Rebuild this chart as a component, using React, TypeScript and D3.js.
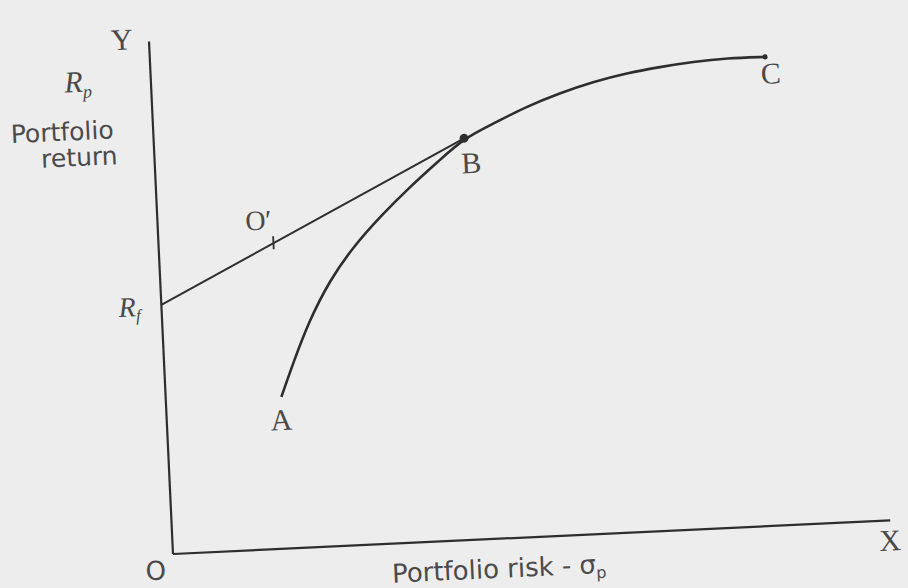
import React from "react";
import * as d3 from "d3";

// Opportunity set (risk σp, return Rp) from A through B to C
const curveRisk = [1.61, 1.8, 2.04, 2.36, 2.71, 3.1, 3.54, 3.97, 4.32, 4.74, 5.21, 5.68, 6.15, 6.63, 7.09, 7.56, 8.03, 8.56];
const curveReturn = [2.96, 3.62, 4.4, 5.19, 5.82, 6.38, 6.94, 7.43, 7.83, 8.09, 8.39, 8.62, 8.81, 8.95, 9.04, 9.11, 9.15, 9.14];

// Points
const pointNames = ["A", "B", "C"];
const pointRisk = [1.61, 4.32, 8.56];
const pointReturn = [2.96, 7.83, 9.14];

const riskFree = 4.86; // Rf
const oPrimeRisk = 1.6; // O'

const W = 908;
const H = 588;
const ORIGIN_X = 173;
const ORIGIN_Y = 554;
const ROT = -2.68;
const X_LEN = 718;
const Y_LEN = 513;

export default function App() {
  const x = d3.scaleLinear().domain([0, 10]).range([0, X_LEN]);
  const y = d3.scaleLinear().domain([0, 10]).range([0, -Y_LEN]);

  const pts: [number, number][] = curveRisk.map((r, i) => [r, curveReturn[i]]);
  const curve = d3
    .line<[number, number]>()
    .x((d) => x(d[0]))
    .y((d) => y(d[1]))
    .curve(d3.curveBasis)(pts);

  const bRisk = pointRisk[1];
  const bRet = pointReturn[1];
  const lineAt = (r: number) => riskFree + ((bRet - riskFree) * r) / bRisk;

  const ink = "#2e2e2e";
  const textInk = "#4a4a4a";
  const serif = "'Liberation Serif', serif";
  const sans = "'DejaVu Sans', sans-serif";

  // label offsets (px, in the rotated frame)
  const labelDx = [-1, 6, 5];
  const labelDy = [33, 35, 27];

  return (
    <svg
      width={W}
      height={H}
      style={{ position: "absolute", left: 0, top: 0, display: "block" }}
    >
      <rect x={0} y={0} width={W} height={H} fill="#ededed" />
      <g transform={`translate(${ORIGIN_X},${ORIGIN_Y}) rotate(${ROT})`}>
        {/* axes */}
        <line x1={x(0)} y1={y(0)} x2={x(0)} y2={y(10)} stroke={ink} strokeWidth={2.2} />
        <line x1={x(0)} y1={y(0)} x2={x(10)} y2={y(0)} stroke={ink} strokeWidth={2.2} />

        {/* capital market line Rf -> B */}
        <line
          x1={x(0)}
          y1={y(riskFree)}
          x2={x(bRisk)}
          y2={y(bRet)}
          stroke={ink}
          strokeWidth={2}
        />
        {/* O' tick */}
        <line
          x1={x(oPrimeRisk)}
          y1={y(lineAt(oPrimeRisk)) - 7}
          x2={x(oPrimeRisk)}
          y2={y(lineAt(oPrimeRisk)) + 6}
          stroke={ink}
          strokeWidth={1.8}
        />

        {/* efficient frontier */}
        <path d={curve || ""} fill="none" stroke={ink} strokeWidth={2.6} />
        <circle cx={x(bRisk)} cy={y(bRet)} r={4.5} fill={ink} />
        <circle cx={x(pointRisk[2])} cy={y(pointReturn[2])} r={2.6} fill={ink} />

        {/* point labels */}
        {pointNames.map((n, i) => (
          <text
            key={n}
            x={x(pointRisk[i]) + labelDx[i]}
            y={y(pointReturn[i]) + labelDy[i]}
            textAnchor="middle"
            fontFamily={serif}
            fontSize={30}
            fill={textInk}
          >
            {n}
          </text>
        ))}
        <text
          x={x(oPrimeRisk) - 14}
          y={y(lineAt(oPrimeRisk)) - 14}
          textAnchor="middle"
          fontFamily={serif}
          fontSize={28}
          fill={textInk}
        >
          O′
        </text>

        {/* axis letters */}
        <text x={-27} y={-506} textAnchor="middle" fontFamily={serif} fontSize={30} fill={textInk}>
          Y
        </text>
        <text x={717} y={30} textAnchor="middle" fontFamily={serif} fontSize={30} fill={textInk}>
          X
        </text>
        <text x={-18} y={25} textAnchor="middle" fontFamily={sans} fontSize={26} fill={textInk}>
          O
        </text>

        {/* y axis labels */}
        <text x={-73} y={-466} textAnchor="middle" fontFamily={serif} fontStyle="italic" fontSize={30} fill={textInk}>
          R<tspan fontSize={18} dy={6}>p</tspan>
        </text>
        <text x={-91} y={-418} textAnchor="middle" fontFamily={sans} fontSize={25} fill={textInk}>
          Portfolio
        </text>
        <text x={-75} y={-392} textAnchor="middle" fontFamily={sans} fontSize={25} fill={textInk}>
          return
        </text>
        <text x={-32} y={y(riskFree) + 10} textAnchor="middle" fontFamily={serif} fontStyle="italic" fontSize={28} fill={textInk}>
          R<tspan fontSize={17} dy={5}>f</tspan>
        </text>

        {/* x axis title */}
        <text x={325} y={39} textAnchor="middle" fontFamily={sans} fontSize={26} fill={textInk}>
          Portfolio risk - σ<tspan fontSize={16} dy={5}>p</tspan>
        </text>
      </g>
    </svg>
  );
}
